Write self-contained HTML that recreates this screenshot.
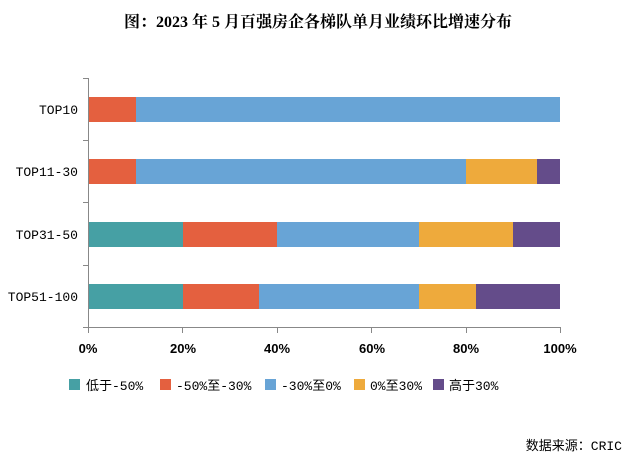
<!DOCTYPE html>
<html><head><meta charset="utf-8"><style>
body{margin:0;width:636px;height:460px;background:#fff;overflow:hidden}
.m{font-family:"Liberation Mono","Noto Sans CJK SC",monospace}
.s{font-family:"Liberation Sans","Noto Sans CJK SC",sans-serif}
.t{font-family:"Liberation Serif","Noto Serif CJK SC",serif}
</style></head><body>
<svg width="636" height="460" xmlns="http://www.w3.org/2000/svg">
<text class="t" x="318" y="27" text-anchor="middle" font-size="16" font-weight="bold" fill="#000">图：2023 年 5 月百强房企各梯队单月业绩环比增速分布</text>
<g stroke="#888" stroke-width="1" fill="none">
<path d="M88.5 78 V327.5 H560"/>
<path d="M83 78.5 H88 M83 140.5 H88 M83 202.5 H88 M83 265.5 H88 M83 327.5 H88"/>
<path d="M88.5 327 V333 M182.5 327 V333 M277.5 327 V333 M371.5 327 V333 M466.5 327 V333 M560.5 327 V333"/>
</g>
<rect x="89" y="97" width="47" height="25" fill="#E4603F"/>
<rect x="136" y="97" width="424" height="25" fill="#68A4D6"/>
<rect x="89" y="159" width="47" height="25" fill="#E4603F"/>
<rect x="136" y="159" width="330" height="25" fill="#68A4D6"/>
<rect x="466" y="159" width="71" height="25" fill="#EEAA3C"/>
<rect x="537" y="159" width="23" height="25" fill="#644C8A"/>
<rect x="89" y="222" width="94" height="25" fill="#46A0A4"/>
<rect x="183" y="222" width="94" height="25" fill="#E4603F"/>
<rect x="277" y="222" width="142" height="25" fill="#68A4D6"/>
<rect x="419" y="222" width="94" height="25" fill="#EEAA3C"/>
<rect x="513" y="222" width="47" height="25" fill="#644C8A"/>
<rect x="89" y="284" width="94" height="25" fill="#46A0A4"/>
<rect x="183" y="284" width="76" height="25" fill="#E4603F"/>
<rect x="259" y="284" width="160" height="25" fill="#68A4D6"/>
<rect x="419" y="284" width="57" height="25" fill="#EEAA3C"/>
<rect x="476" y="284" width="84" height="25" fill="#644C8A"/>
<g class="m" font-size="13" text-anchor="end" fill="#000">
<text x="78" y="114">TOP10</text>
<text x="78" y="176">TOP11-30</text>
<text x="78" y="239">TOP31-50</text>
<text x="78" y="301">TOP51-100</text>
</g>
<g class="s" font-size="13" font-weight="bold" text-anchor="middle" fill="#000">
<text x="88" y="353">0%</text>
<text x="183" y="353">20%</text>
<text x="277" y="353">40%</text>
<text x="372" y="353">60%</text>
<text x="466" y="353">80%</text>
<text x="560" y="353">100%</text>
</g>
<g class="m" font-size="13" fill="#000">
<rect x="69" y="379" width="11" height="11" fill="#46A0A4"/><text x="86" y="390">低于-50%</text>
<rect x="160" y="379" width="11" height="11" fill="#E4603F"/><text x="176" y="390">-50%至-30%</text>
<rect x="265" y="379" width="11" height="11" fill="#68A4D6"/><text x="281" y="390">-30%至0%</text>
<rect x="354" y="379" width="11" height="11" fill="#EEAA3C"/><text x="370" y="390">0%至30%</text>
<rect x="433" y="379" width="11" height="11" fill="#644C8A"/><text x="449" y="390">高于30%</text>
</g>
<text class="m" x="622" y="450" font-size="13" text-anchor="end" fill="#000">数据来源：CRIC</text>
</svg>
</body></html>
